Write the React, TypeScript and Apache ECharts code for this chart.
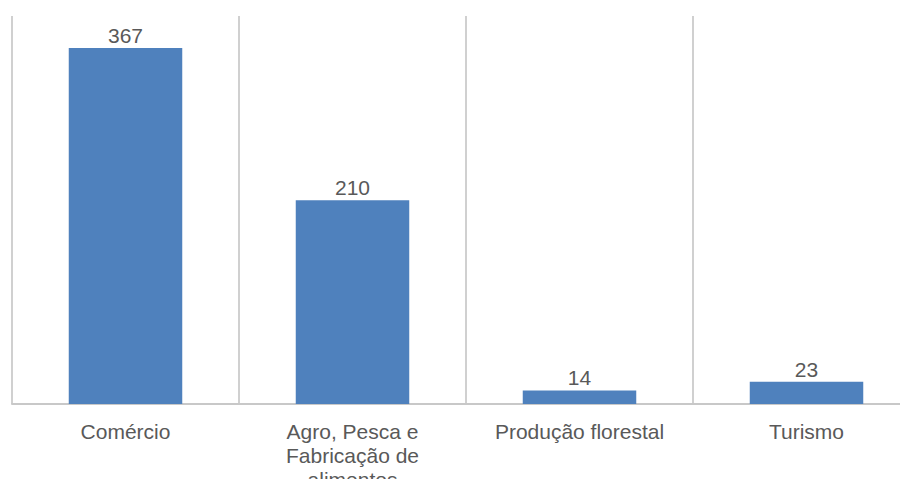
import React, { useEffect, useRef } from "react";
import * as echarts from "echarts";

const categories = ["Comércio", "Agro, Pesca e\nFabricação de\nalimentos", "Produção florestal", "Turismo"];
const values = [367, 210, 14, 23];
const yMax = 400;

export default function App() {
  const ref = useRef<HTMLDivElement>(null);
  useEffect(() => {
    if (!ref.current) return;
    const chart = echarts.init(ref.current, undefined, { renderer: "svg" });
    chart.setOption({
      animation: false,
      backgroundColor: "#ffffff",
      grid: { left: 12, right: 0, top: 16, bottom: 83, containLabel: false, outerBoundsMode: "none" },
      xAxis: {
        type: "category",
        data: categories,
        boundaryGap: true,
        axisLine: { show: true, lineStyle: { color: "#c8c8c8", width: 2 } },
        axisTick: { show: false },
        splitLine: { show: true, lineStyle: { color: "#d0d0d0", width: 2 } },
        axisLabel: {
          interval: 0,
          margin: 15,
          color: "#595959",
          fontSize: 21,
          lineHeight: 24,
          fontFamily: "Liberation Sans, Arial, sans-serif",
        },
      },
      yAxis: {
        type: "value",
        min: 0,
        max: yMax,
        show: false,
        splitLine: { show: false },
      },
      series: [
        {
          type: "bar",
          data: values,
          barWidth: "50%",
          itemStyle: { color: "#4f81bd" },
          label: {
            show: true,
            position: "top",
            distance: 2,
            color: "#595959",
            fontSize: 21,
            fontFamily: "Liberation Sans, Arial, sans-serif",
          },
        },
      ],
    });
    return () => chart.dispose();
  }, []);
  return (
    <div style={{ width: 908, height: 487, margin: -8, overflow: "hidden", position: "relative", background: "#fff" }}>
      <div ref={ref} style={{ width: 920, height: 487 }} />
    </div>
  );
}
